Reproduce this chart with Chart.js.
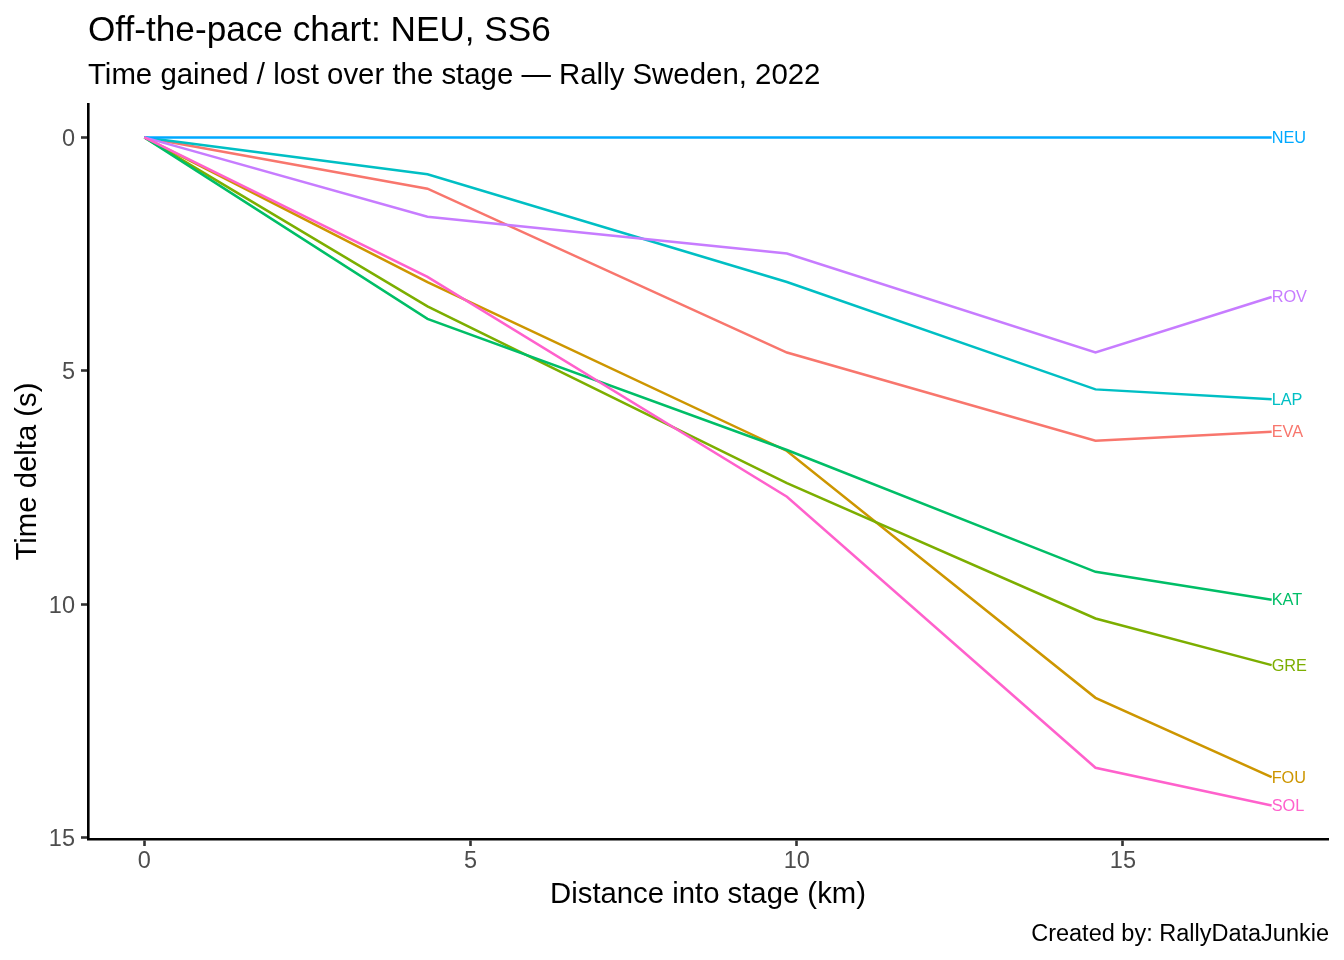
<!DOCTYPE html>
<html>
<head>
<meta charset="utf-8">
<script src="https://cdn.jsdelivr.net/npm/chart.js@4.4.1/dist/chart.umd.min.js"></script>
<style>
  html, body { margin: 0; padding: 0; background: #ffffff; }
  #wrap { width: 1344px; height: 960px; }
</style>
</head>
<body>
<div id="wrap"><canvas id="c" width="1344" height="960"></canvas></div>
<script>
// ---- Data ----
const distances = [0, 4.34, 9.85, 14.58, 17.28];   // km into stage (split points)
const drivers = ["EVA", "FOU", "GRE", "KAT", "LAP", "NEU", "ROV", "SOL"];
const EVA = [0, 1.10, 4.61, 6.50, 6.31];
const FOU = [0, 3.10, 6.72, 12.01, 13.71];
const GRE = [0, 3.62, 7.41, 10.31, 11.31];
const KAT = [0, 3.89, 6.70, 9.31, 9.91];
const LAP = [0, 0.79, 3.10, 5.40, 5.61];
const NEU = [0, 0, 0, 0, 0];
const ROV = [0, 1.70, 2.49, 4.61, 3.42];
const SOL = [0, 2.99, 7.70, 13.51, 14.32];
const xTicks = [0, 5, 10, 15];
const yTicks = [0, 5, 10, 15];

const titleText = "Off-the-pace chart: NEU, SS6";
const subtitleText = "Time gained / lost over the stage \u2014 Rally Sweden, 2022";
const xTitle = "Distance into stage (km)";
const yTitle = "Time delta (s)";
const captionText = "Created by: RallyDataJunkie";

// ---- Styles ----
const seriesValues = { EVA, FOU, GRE, KAT, LAP, NEU, ROV, SOL };
const colours = {
  EVA: "#F8766D", FOU: "#CD9600", GRE: "#7CAE00", KAT: "#00BE67",
  LAP: "#00BFC4", NEU: "#00A9FF", ROV: "#C77CFF", SOL: "#FF61CC"
};
const FONT = "'Liberation Sans', Arial, Helvetica, sans-serif";

// ggplot-style 5% expansion of the data range
const allY = drivers.flatMap(d => seriesValues[d]);
const yMinD = Math.min(...allY), yMaxD = Math.max(...allY);
const yPad = (yMaxD - yMinD) * 0.05;
const xMinD = Math.min(...distances), xMaxD = Math.max(...distances);
const xPad = (xMaxD - xMinD) * 0.05;

const datasets = drivers.map((d, i) => ({
  label: d,
  data: distances.map((x, j) => ({ x: x, y: seriesValues[d][j] })),
  borderColor: colours[d],
  backgroundColor: colours[d],
  borderWidth: 2.5,
  pointRadius: 0,
  pointHoverRadius: 0,
  tension: 0,
  fill: false,
  order: drivers.length - i
}));

const decorPlugin = {
  id: "decor",
  afterDatasetsDraw(chart) {
    const ctx = chart.ctx;
    const xs = chart.scales.x, ys = chart.scales.y;
    ctx.save();
    ctx.font = "16.3px " + FONT;
    ctx.textAlign = "left";
    ctx.textBaseline = "middle";
    drivers.forEach(d => {
      const vals = seriesValues[d];
      const px = xs.getPixelForValue(distances[distances.length - 1]);
      const py = ys.getPixelForValue(vals[vals.length - 1]);
      ctx.fillStyle = colours[d];
      ctx.fillText(d, px, py + 1);
    });
    ctx.restore();
  },
  afterDraw(chart) {
    const ctx = chart.ctx;
    const area = chart.chartArea;
    ctx.save();
    ctx.fillStyle = "#000000";
    ctx.textBaseline = "alphabetic";
    ctx.textAlign = "left";
    ctx.font = "35.2px " + FONT;
    ctx.fillText(titleText, area.left, 41);
    ctx.font = "29.4px " + FONT;
    ctx.fillText(subtitleText, area.left, 84);
    ctx.textAlign = "center";
    ctx.font = "29.3px " + FONT;
    ctx.fillText(xTitle, (area.left + area.right) / 2, 903);
    ctx.save();
    ctx.translate(36, (area.top + area.bottom) / 2);
    ctx.rotate(-Math.PI / 2);
    ctx.textAlign = "center";
    ctx.fillText(yTitle, 0, 0);
    ctx.restore();
    ctx.textAlign = "right";
    ctx.font = "23.5px " + FONT;
    ctx.fillText(captionText, 1329, 941);
    ctx.restore();
  }
};

new Chart(document.getElementById("c"), {
  type: "line",
  data: { datasets },
  plugins: [decorPlugin],
  options: {
    responsive: false,
    animation: false,
    devicePixelRatio: 1,
    layout: { padding: { left: 0, right: 16, top: 104, bottom: 0 } },
    plugins: {
      legend: { display: false },
      tooltip: { enabled: false },
      title: { display: false }
    },
    scales: {
      x: {
        type: "linear",
        min: xMinD - xPad,
        max: xMaxD + xPad,
        afterBuildTicks: axis => { axis.ticks = xTicks.map(v => ({ value: v })); },
        afterFit: axis => { axis.height = 121; },
        grid: { display: true, drawOnChartArea: false, drawTicks: true, tickLength: 7, tickColor: "#333333", tickWidth: 2.6 },
        border: { display: true, color: "#000000", width: 2.6 },
        ticks: {
          color: "#4D4D4D",
          font: { family: FONT, size: 23.5 },
          padding: 1,
          maxRotation: 0,
          autoSkip: false
        }
      },
      y: {
        type: "linear",
        reverse: true,
        min: yMinD - yPad,
        max: yMaxD + yPad,
        afterBuildTicks: axis => { axis.ticks = yTicks.map(v => ({ value: v })); },
        afterFit: axis => { axis.width = 88; },
        grid: { display: true, drawOnChartArea: false, drawTicks: true, tickLength: 7, tickColor: "#333333", tickWidth: 2.6 },
        border: { display: true, color: "#000000", width: 2.6 },
        ticks: {
          color: "#4D4D4D",
          font: { family: FONT, size: 23.5 },
          padding: 6,
          labelOffset: 2,
          autoSkip: false
        }
      }
    }
  }
});
</script>
</body>
</html>
